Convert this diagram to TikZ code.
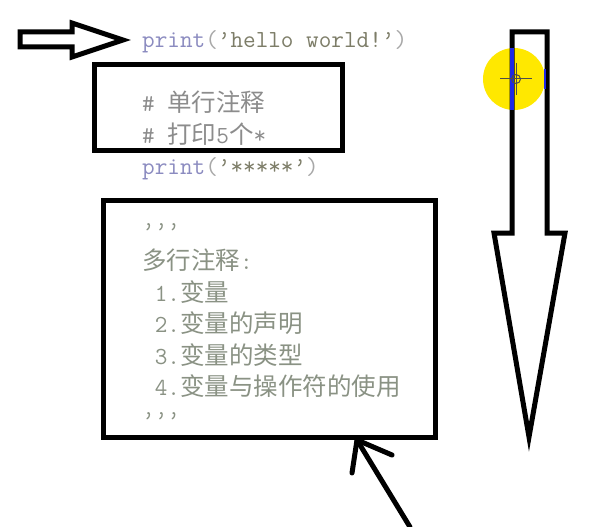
\documentclass[tikz,border=0pt]{standalone}
\usepackage{fontspec}
\newfontfamily\cjk{Noto Sans CJK SC}
\definecolor{kwcol}{HTML}{8B8BC0}
\definecolor{strcol}{HTML}{7D7D68}
\definecolor{parcol}{HTML}{A8A8A8}
\definecolor{comcol}{HTML}{8C8C8C}
\definecolor{mlcol}{HTML}{8A9284}
\definecolor{hlyellow}{HTML}{FFE800}
\definecolor{hlblue}{HTML}{1E28E6}
\begin{document}
\begin{tikzpicture}[x=1pt,y=-1pt,
  codeline/.style={anchor=base west,inner sep=0pt,font=\fontsize{24.5}{31.5}\selectfont\ttfamily},
  frame/.style={draw=black,line width=5pt},
  bigarrow/.style={draw=black,line width=5pt,line join=miter},
  pen/.style={draw=black,line width=5pt,line cap=round}]
\useasboundingbox (0,0) rectangle (589,527);
\fill[white] (0,0) rectangle (589,527);

% code text
\node[codeline] (l1) at (142,48) {\textcolor{kwcol}{print}\textcolor{parcol}{(}\textcolor{strcol}{’hello world!’}\textcolor{parcol}{)}};
\draw[color=black!22,line width=1.5pt] (107,63) -- (193,63);
\node[codeline,text=comcol] (l2) at (142,111) {\# {\cjk 单行注释}};
\node[codeline,text=comcol] (l3) at (142,143) {\# {\cjk 打印}5{\cjk 个}*};
\node[codeline] (l4) at (142,174.5) {\textcolor{kwcol}{print}\textcolor{parcol}{(}\textcolor{strcol}{’*****’}\textcolor{parcol}{)}};
\node[codeline,text=mlcol] (m0) at (142,238) {’’’};
\node[codeline,text=mlcol] (m1) at (142,269.5) {{\cjk 多行注释}:};
\node[codeline,text=mlcol] (m2) at (142,301) {\ 1.{\cjk 变量}};
\node[codeline,text=mlcol] (m3) at (142,332.5) {\ 2.{\cjk 变量的声明}};
\node[codeline,text=mlcol] (m4) at (142,364) {\ 3.{\cjk 变量的类型}};
\node[codeline,text=mlcol] (m5) at (142,395.5) {\ 4.{\cjk 变量与操作符的使用}};
\node[codeline,text=mlcol] (m6) at (142,427) {’’’};

% frames
\draw[frame] (94,65) rectangle (342,150);
\draw[frame] (103,200) rectangle (435,437);

% left block arrow
\draw[bigarrow] (20,32) -- (72,32) -- (72,23) -- (123,40) -- (72,57) -- (72,47) -- (20,47) -- cycle;

% highlight circle
\fill[hlyellow] (514,79) circle[radius=31];

% down block arrow
\draw[bigarrow] (512,32) -- (547,32) -- (547,233) -- (565,233) -- (529,437) -- (494,233) -- (512,233) -- cycle;
\draw[hlblue,line width=3.5pt] (512,48) -- (512,110);
\draw[hlblue,line width=2pt] (545.3,69) -- (545.3,89);

% cursor crosshair
\draw[black!70,line width=1pt] (500,79) -- (532,79) (516,63) -- (516,95);
\draw[black!70,line width=1pt] (516,79) circle[radius=4.5];

% hand-drawn arrow
\coordinate (tipA) at (357,440);
\coordinate (tailA) at (410,527);
\coordinate (armL) at (352,473);
\coordinate (armR) at (392,455);
\draw[pen] (tailA) -- (tipA);
\draw[pen] (armL) -- (tipA) -- (armR);
\end{tikzpicture}
\end{document}
